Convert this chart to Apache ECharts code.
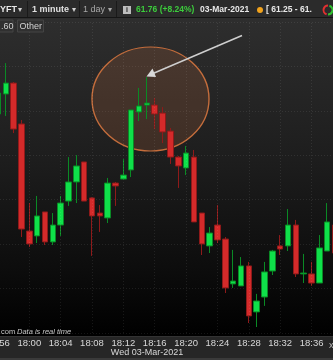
<!DOCTYPE html>
<html>
<head>
<meta charset="utf-8">
<script src="https://cdn.jsdelivr.net/npm/echarts@6/dist/echarts.min.js"></script>
<style>
html,body{margin:0;padding:0;background:#000;}
#chart{width:333px;height:360px;}
</style>
</head>
<body>
<div id="chart"></div>
<script>
// ---- data ----
const categories = ['17:56','17:57','17:58','17:59','18:00','18:01','18:02','18:03','18:04','18:05',
  '18:06','18:07','18:08','18:09','18:10','18:11','18:12','18:13','18:14','18:15',
  '18:16','18:17','18:18','18:19','18:20','18:21','18:22','18:23','18:24','18:25',
  '18:26','18:27','18:28','18:29','18:30','18:31','18:32','18:33','18:34','18:35',
  '18:36','18:37','18:38','18:39'];
const opens  = [61.586,61.676,61.725,61.541,61.059,61.037,61.145,61.010,61.086,61.194,
  61.280,61.370,61.208,61.140,61.118,61.275,61.293,61.334,61.595,61.626,
  61.626,61.590,61.509,61.392,61.343,61.392,61.140,60.992,61.086,61.023,
  60.821,60.812,60.902,60.695,60.762,60.879,60.992,60.992,61.086,60.866,
  60.866,60.825,60.969,61.086];
const closes = [61.680,61.725,61.518,61.068,61.001,61.127,61.010,61.086,61.185,61.280,
  61.352,61.194,61.127,61.127,61.275,61.262,61.311,61.604,61.622,61.635,
  61.586,61.505,61.392,61.352,61.410,61.100,61.001,61.050,61.019,60.803,
  60.834,60.902,60.677,60.744,60.875,60.969,60.978,61.086,60.866,60.870,
  60.825,60.983,61.100,60.960];
const lows   = [61.572,61.577,61.500,61.032,60.987,61.005,60.996,60.996,61.037,61.172,
  61.185,61.194,60.947,61.055,61.095,61.172,61.293,61.302,61.554,61.563,
  61.518,61.455,61.361,61.253,61.311,61.100,60.951,60.960,61.005,60.780,
  60.803,60.812,60.645,60.627,60.722,60.861,60.951,60.969,60.852,60.825,
  60.812,60.825,60.969,60.947];
const highs  = [61.694,61.815,61.730,61.559,61.185,61.217,61.145,61.140,61.217,61.392,
  61.401,61.370,61.212,61.176,61.298,61.280,61.383,61.604,61.703,61.752,
  61.658,61.617,61.523,61.397,61.442,61.424,61.140,61.077,61.176,61.032,
  60.974,60.942,60.920,60.776,60.920,60.974,61.041,61.158,61.109,60.956,
  60.920,61.041,61.185,61.100];
const gridTimes = ['17:56','18:00','18:04','18:08','18:12','18:16','18:20','18:24','18:28','18:32','18:36'];
const headerTicker = 'YFT';
const headerInterval = '1 minute';
const headerRange = '1 day';
const headerLast = '61.76 (+8.24%)';
const headerDate = '03-Mar-2021';
const headerLowHigh = '[ 61.25 - 61.';
const dateLabel = 'Wed 03-Mar-2021';

const ohlc = categories.map((c, i) => [opens[i], closes[i], lows[i], highs[i]]);

const FONT = "'Liberation Sans', Arial, sans-serif";
const chart = echarts.init(document.getElementById('chart'), null, {renderer: 'canvas'});

function txt(x, y, text, fill, size, weight, extra) {
  return {
    type: 'text', z: 60,
    style: Object.assign({x: x, y: y, text: text, fill: fill,
      font: (weight || 'normal') + ' ' + size + 'px ' + FONT,
      align: 'left', verticalAlign: 'middle'}, extra || {})
  };
}

const graphics = [
  // chart background gradient
  {type: 'rect', z: -10, silent: true, shape: {x: 0, y: 18, width: 333, height: 318},
   style: {fill: new echarts.graphic.LinearGradient(0, 0, 0, 1, [
     {offset: 0, color: '#2e2e2e'}, {offset: 0.45, color: '#1d1d1d'},
     {offset: 0.8, color: '#0c0c0c'}, {offset: 1, color: '#000000'}])}},
  // top toolbar
  {type: 'rect', z: 50, shape: {x: 0, y: 0, width: 333, height: 18}, style: {fill: '#2b2b2b'}},
  {type: 'rect', z: 50, shape: {x: 0, y: 17, width: 333, height: 1}, style: {fill: '#151515'}},
  {type: 'rect', z: 51, shape: {x: 27, y: 1, width: 1, height: 16}, style: {fill: '#1a1a1a'}},
  {type: 'rect', z: 51, shape: {x: 79, y: 1, width: 1, height: 16}, style: {fill: '#1a1a1a'}},
  {type: 'rect', z: 51, shape: {x: 116, y: 1, width: 1, height: 16}, style: {fill: '#1a1a1a'}},
  txt(0, 10, headerTicker, '#e8e8e8', 9, 'bold'),
  txt(18, 10, '\u25BE', '#cfcfcf', 8),
  txt(32, 10, headerInterval, '#e0e0e0', 9, 'bold'),
  txt(72, 10, '\u25BE', '#cfcfcf', 8),
  txt(83, 10, headerRange, '#a8a8a8', 9),
  txt(108, 10, '\u25BE', '#a8a8a8', 8),
  {type: 'rect', z: 55, shape: {x: 123, y: 6, width: 8, height: 8}, style: {fill: '#bdbdbd'}},
  txt(127, 10, 'i', '#222', 7, 'bold', {align: 'center'}),
  txt(136, 10, headerLast, '#3ccc3c', 8.5, 'bold'),
  txt(200, 10, headerDate, '#e8e8e8', 8.5, 'bold'),
  {type: 'circle', z: 55, shape: {cx: 260, cy: 10, r: 3}, style: {fill: '#f2a31c'}},
  txt(266, 10, headerLowHigh, '#e8e8e8', 8.5, 'bold'),
  {type: 'arc', z: 55, shape: {cx: 328, cy: 10, r: 4.5, startAngle: Math.PI * 0.6, endAngle: Math.PI * 1.5}, style: {stroke: '#e03030', lineWidth: 2, fill: null}},
  {type: 'arc', z: 55, shape: {cx: 328, cy: 10, r: 4.5, startAngle: -Math.PI * 0.4, endAngle: Math.PI * 0.5}, style: {stroke: '#30c030', lineWidth: 2, fill: null}},
  // second row buttons
  {type: 'rect', z: 50, shape: {x: -1, y: 20, width: 14, height: 12}, style: {fill: '#303030', stroke: '#444', lineWidth: 1}},
  txt(1, 26.5, '.60', '#d0d0d0', 9),
  {type: 'rect', z: 50, shape: {x: 17.5, y: 20, width: 26, height: 12}, style: {fill: '#303030', stroke: '#444', lineWidth: 1}},
  txt(19.5, 26.5, 'Other', '#d0d0d0', 9),
  // highlight ellipse
  {type: 'circle', z: 1, silent: true, x: 150.5, y: 99, scaleY: 52 / 58.5,
   shape: {cx: 0, cy: 0, r: 58.5},
   style: {fill: 'rgba(195,110,65,0.2)', stroke: '#c46d3c', lineWidth: 1.4}},
  // arrow
  {type: 'line', z: 100, shape: {x1: 242, y1: 35.5, x2: 153, y2: 73.5},
   style: {stroke: '#cfcfcf', lineWidth: 1.5}},
  {type: 'polygon', z: 100, shape: {points: [[146.5, 76.5], [156, 77], [152.5, 68.5]]},
   style: {fill: '#d8d8d8'}},
  // bottom bar
  {type: 'rect', z: -10, shape: {x: 0, y: 336, width: 333, height: 24}, style: {fill: '#262626'}},
  {type: 'rect', z: -10, shape: {x: 0, y: 336, width: 333, height: 1}, style: {fill: '#333'}},
  {type: 'rect', z: -10, shape: {x: 0, y: 358, width: 333, height: 2}, style: {fill: '#3a3a3a'}},
  txt(147, 352.5, dateLabel, '#d8d8d8', 9, 'normal', {align: 'center'}),
  txt(329, 346, 'x', '#bbb', 9),
  // data notice
  txt(1, 332, 'com', '#c8c8c8', 7.5),
  {type: 'text', z: 60, style: {x: 17, y: 332, text: 'Data is real time', fill: '#c8c8c8',
    font: 'italic 7.5px ' + FONT, align: 'left', verticalAlign: 'middle'}}
];

const option = {
  backgroundColor: 'transparent',
  animation: false,
  grid: {left: -6, right: -6, top: 22, bottom: 27, containLabel: false, outerBoundsMode: 'none'},
  xAxis: {
    type: 'category', data: categories, boundaryGap: true,
    axisLine: {show: false}, axisTick: {show: false},
    splitLine: {show: false},
    axisLabel: {interval: 3, color: '#d8d8d8', fontSize: 9.5, fontFamily: FONT, margin: 5,
      hideOverlap: false}
  },
  yAxis: {
    type: 'value', min: 60.6, max: 62.0, interval: 0.2,
    axisLine: {show: false}, axisTick: {show: false}, axisLabel: {show: false},
    splitLine: {show: true, lineStyle: {color: 'rgba(255,255,255,0.085)', type: [1, 2], width: 1}}
  },
  graphic: graphics,
  series: [
    {
      type: 'line', data: categories.map(() => null), z: 0, silent: true, symbol: 'none',
      markLine: {
        silent: true, symbol: 'none', label: {show: false},
        lineStyle: {color: 'rgba(255,255,255,0.085)', type: [1, 2], width: 1},
        data: gridTimes.map(t => ({xAxis: t}))
      }
    },
    {
      type: 'candlestick', data: ohlc, z: 3, barWidth: 6,
      itemStyle: {
        color: '#0fe04a', color0: '#d42a2a',
        borderColor: '#0a8a25', borderColor0: '#8e1a1a', borderWidth: 1
      }
    }
  ]
};
chart.setOption(option);
</script>
</body>
</html>
